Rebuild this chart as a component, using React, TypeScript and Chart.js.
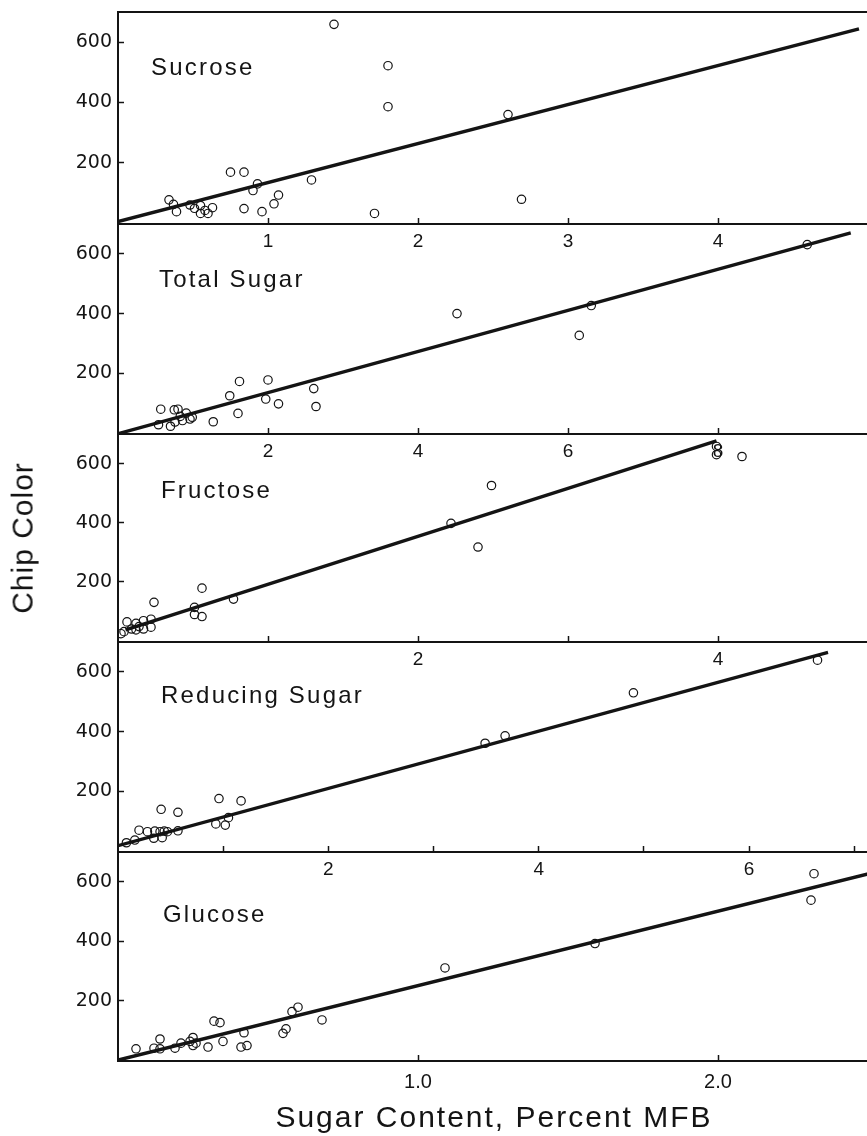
import React, { useEffect, useRef } from "react";
import { Chart, registerables } from "chart.js";

Chart.register(...registerables);

// ---- Chip colour against sugar content (percent, moisture-free basis) ----

const sucroseX = [1.44, 1.80, 1.80, 2.60, 2.69, 1.71, 1.29, 0.75, 0.84, 0.93, 0.90, 1.07, 1.04, 0.96, 0.84, 0.34, 0.37, 0.39, 0.48, 0.51, 0.55, 0.55, 0.58, 0.60, 0.63];
const sucroseY = [659, 522, 386, 360, 79, 32, 143, 169, 169, 130, 108, 93, 64, 38, 48, 77, 62, 38, 60, 49, 58, 32, 42, 32, 51];

const totalX = [9.19, 6.31, 6.15, 4.52, 1.62, 2.0, 2.61, 2.64, 1.49, 1.97, 2.14, 1.60, 1.27, 0.57, 0.54, 0.70, 0.75, 0.80, 0.83, 0.91, 0.86, 0.99, 0.96, 0.76];
const totalY = [631, 427, 327, 400, 173, 178, 149, 89, 125, 114, 98, 66, 38, 80, 28, 23, 78, 80, 56, 67, 42, 53, 47, 37];

const fructoseX = [3.99, 3.99, 4.16, 2.49, 2.22, 2.40, 0.56, 0.77, 0.51, 0.51, 0.56, 0.24, 0.06, 0.04, 0.02, 0.12, 0.12, 0.17, 0.17, 0.22, 0.22, 0.14, 0.09];
const fructoseY = [658, 630, 624, 526, 398, 318, 179, 142, 114, 90, 83, 131, 65, 32, 25, 60, 38, 69, 41, 74, 47, 49, 41];

const reducingX = [6.65, 4.90, 3.68, 3.49, 0.96, 1.17, 0.41, 0.57, 0.93, 1.02, 1.05, 0.57, 0.20, 0.08, 0.16, 0.28, 0.35, 0.40, 0.44, 0.34, 0.42, 0.47];
const reducingY = [639, 530, 386, 361, 176, 168, 140, 130, 91, 87, 112, 68, 70, 28, 37, 65, 67, 65, 67, 43, 45, 65];

const glucoseX = [2.32, 2.31, 1.59, 1.09, 0.60, 0.58, 0.56, 0.55, 0.68, 0.32, 0.34, 0.42, 0.35, 0.25, 0.24, 0.26, 0.21, 0.14, 0.30, 0.41, 0.43, 0.06, 0.12, 0.14, 0.19, 0.25];
const glucoseY = [627, 538, 392, 310, 178, 163, 105, 90, 135, 131, 126, 92, 63, 76, 63, 57, 57, 71, 44, 44, 49, 38, 40, 38, 40, 49];

// fitted regression lines (end points)
const sucroseFitX = [0, 4.94];
const sucroseFitY = [5, 644];
const totalFitX = [0, 9.77];
const totalFitY = [-2, 670];
const fructoseFitX = [0.05, 3.99];
const fructoseFitY = [38, 677];
const reducingFitX = [0, 6.75];
const reducingFitY = [18, 665];
const glucoseFitX = [0, 2.5];
const glucoseFitY = [0, 626];

// axis ticks
const chipTicks = [200, 400, 600];
const chipTickLabels = ["200", "400", "600"];
const sucroseTicks = [1, 2, 3, 4];
const sucroseTickLabels = ["1", "2", "3", "4"];
const totalTicks = [2, 4, 6, 8];
const totalTickLabels = ["2", "4", "6", "8"];
const fructoseTicks = [1, 2, 3, 4];
const fructoseTickLabels = ["", "2", "", "4"];
const reducingTicks = [1, 2, 3, 4, 5, 6, 7];
const reducingTickLabels = ["", "2", "", "4", "", "6", ""];
const glucoseTicks = [1, 2];
const glucoseTickLabels = ["1.0", "2.0"];

const panelNames = ["Sucrose", "Total Sugar", "Fructose", "Reducing Sugar", "Glucose"];
const xMaxima = [5.0, 10.0, 5.0, 7.13, 2.5];
const chipMin = -3;
const chipMax = 700;

const yTitle = "Chip Color";
const xTitle = "Sugar Content, Percent MFB";

// ---- layout ----
const INK = "#141414";
const PANEL_EDGES = [12, 224, 434, 642, 852, 1061];
const AREA_LEFT = 118;
const AREA_RIGHT = 868;
const CANVAS_W = 890;
const PAD_T = 26;
const X_AXIS_H = 44;
const X_LABEL_PAD = [12, 12, 12, 12, 15];
const X_LABEL_SIZE = [19, 19, 19, 19, 20];
const NAME_POS = [
  { x: 151, base: 75 },
  { x: 159, base: 287 },
  { x: 161, base: 498 },
  { x: 161, base: 703 },
  { x: 163, base: 922 },
];

type PanelSpec = {
  xs: number[];
  ys: number[];
  fitX: number[];
  fitY: number[];
  ticks: number[];
  labels: string[];
};

const PANELS: PanelSpec[] = [
  { xs: sucroseX, ys: sucroseY, fitX: sucroseFitX, fitY: sucroseFitY, ticks: sucroseTicks, labels: sucroseTickLabels },
  { xs: totalX, ys: totalY, fitX: totalFitX, fitY: totalFitY, ticks: totalTicks, labels: totalTickLabels },
  { xs: fructoseX, ys: fructoseY, fitX: fructoseFitX, fitY: fructoseFitY, ticks: fructoseTicks, labels: fructoseTickLabels },
  { xs: reducingX, ys: reducingY, fitX: reducingFitX, fitY: reducingFitY, ticks: reducingTicks, labels: reducingTickLabels },
  { xs: glucoseX, ys: glucoseY, fitX: glucoseFitX, fitY: glucoseFitY, ticks: glucoseTicks, labels: glucoseTickLabels },
];

const pairs = (xs: number[], ys: number[]) => xs.map((x, i) => ({ x, y: ys[i] }));

// frame line along the top of the uppermost panel
const topFrame = {
  id: "topFrame",
  beforeDatasetsDraw(chart: any) {
    const { ctx, chartArea } = chart;
    ctx.save();
    ctx.strokeStyle = INK;
    ctx.lineWidth = 2;
    ctx.beginPath();
    ctx.moveTo(chartArea.left - 1, chartArea.top);
    ctx.lineTo(chartArea.right, chartArea.top);
    ctx.stroke();
    ctx.restore();
  },
};

function Panel({ idx }: { idx: number }) {
  const ref = useRef<HTMLCanvasElement>(null);
  const areaH = PANEL_EDGES[idx + 1] - PANEL_EDGES[idx];
  const h = PAD_T + areaH + X_AXIS_H;
  const top = PANEL_EDGES[idx] - PAD_T;

  useEffect(() => {
    const spec = PANELS[idx];
    const chart = new Chart(ref.current as HTMLCanvasElement, {
      type: "scatter",
      data: {
        datasets: [
          {
            data: pairs(spec.xs, spec.ys),
            pointStyle: "circle",
            pointRadius: 4.2,
            pointBorderWidth: 1.2,
            borderColor: INK,
            backgroundColor: "rgba(0,0,0,0)",
            showLine: false,
            order: 0,
          },
          {
            data: pairs(spec.fitX, spec.fitY),
            showLine: true,
            borderColor: INK,
            borderWidth: 3.4,
            pointRadius: 0,
            fill: false,
            order: 1,
          },
        ],
      },
      options: {
        responsive: false,
        animation: false,
        events: [],
        devicePixelRatio: 1,
        layout: { padding: { top: PAD_T, right: CANVAS_W - AREA_RIGHT, left: 0, bottom: 0 } },
        plugins: {
          legend: { display: false },
          tooltip: { enabled: false },
          title: { display: false },
        },
        scales: {
          x: {
            type: "linear",
            position: "bottom",
            min: 0,
            max: xMaxima[idx],
            afterBuildTicks: (s: any) => {
              s.ticks = spec.ticks.map((v) => ({ value: v }));
            },
            afterFit: (s: any) => {
              s.height = X_AXIS_H;
            },
            grid: {
              drawOnChartArea: false,
              drawTicks: true,
              tickLength: -6,
              tickWidth: 1.5,
              tickColor: INK,
            },
            border: { display: true, color: INK, width: 2 },
            ticks: {
              autoSkip: false,
              maxRotation: 0,
              minRotation: 0,
              padding: X_LABEL_PAD[idx],
              color: INK,
              font: { family: "'Liberation Sans Narrow', 'Liberation Sans', sans-serif", size: X_LABEL_SIZE[idx] },
              callback: (_v: any, i: number) => spec.labels[i],
            },
          },
          y: {
            type: "linear",
            min: chipMin,
            max: chipMax,
            afterBuildTicks: (s: any) => {
              s.ticks = chipTicks.map((v) => ({ value: v }));
            },
            afterFit: (s: any) => {
              s.width = AREA_LEFT;
            },
            grid: {
              drawOnChartArea: false,
              drawTicks: true,
              tickLength: -6,
              tickWidth: 1.5,
              tickColor: INK,
            },
            border: { display: true, color: INK, width: 2 },
            ticks: {
              padding: 12,
              color: INK,
              font: { family: "'DejaVu Sans', sans-serif", size: 19 },
              callback: (_v: any, i: number) => chipTickLabels[i],
            },
          },
        },
      } as any,
      plugins: idx === 0 ? [topFrame] : [],
    });
    return () => chart.destroy();
  }, [idx]);

  return (
    <canvas
      ref={ref}
      width={CANVAS_W}
      height={h}
      style={{ position: "absolute", left: 0, top, width: CANVAS_W, height: h }}
    />
  );
}

const textFont = "'Liberation Sans', Arial, sans-serif";

export default function App() {
  return (
    <div
      style={{
        position: "fixed",
        left: 0,
        top: 0,
        width: 867,
        height: 1136,
        overflow: "hidden",
        background: "#ffffff",
        color: INK,
      }}
    >
      {PANELS.map((_, i) => (
        <Panel key={i} idx={i} />
      ))}

      {panelNames.map((name, i) => (
        <div
          key={name}
          style={{
            position: "absolute",
            left: NAME_POS[i].x,
            top: NAME_POS[i].base - 20.3,
            fontFamily: textFont,
            fontSize: 24,
            lineHeight: "24px",
            letterSpacing: "2.2px",
            whiteSpace: "nowrap",
          }}
        >
          {name}
        </div>
      ))}

      <div
        style={{
          position: "absolute",
          left: 0,
          top: 0,
          width: 300,
          height: 30,
          fontFamily: textFont,
          fontSize: 30,
          lineHeight: "30px",
          letterSpacing: "1px",
          textAlign: "center",
          whiteSpace: "nowrap",
          transformOrigin: "0 0",
          transform: "translate(33px, 538px) rotate(-90deg) translate(-150px, -25.4px)",
        }}
      >
        {yTitle}
      </div>

      <div
        style={{
          position: "absolute",
          left: 494 - 300,
          top: 1127 - 25.4,
          width: 600,
          fontFamily: textFont,
          fontSize: 30,
          lineHeight: "30px",
          letterSpacing: "2px",
          textAlign: "center",
          whiteSpace: "nowrap",
        }}
      >
        {xTitle}
      </div>
    </div>
  );
}
